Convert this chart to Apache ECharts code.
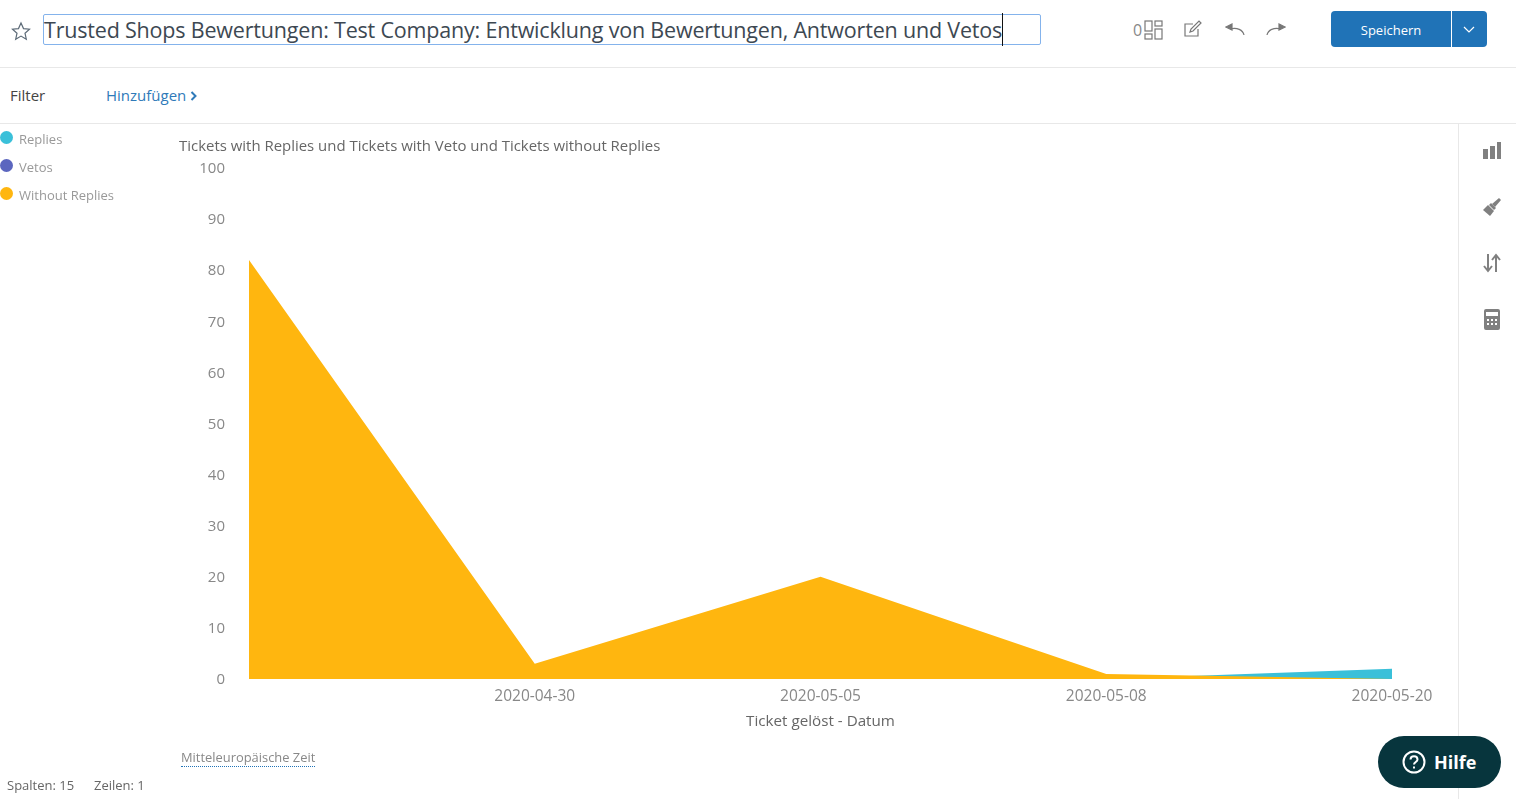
<!DOCTYPE html>
<html>
<head>
<meta charset="utf-8">
<title>Trusted Shops Bewertungen</title>
<script src="https://cdn.jsdelivr.net/npm/echarts@6/dist/echarts.min.js"></script>
<style>
html, body { margin: 0; padding: 0; background: #fff; overflow: hidden; }
body { width: 1516px; height: 799px; position: relative; font-family: "Open Sans", sans-serif; color: #555; }
.abs { position: absolute; white-space: nowrap; }
.hline { position: absolute; left: 0; width: 1516px; height: 1px; background: #e8e8e8; }
#main { position: absolute; left: 0; top: 124px; width: 1458px; height: 675px; }
svg { position: absolute; fill: none; stroke: #777; stroke-width: 1.2; }
</style>
</head>
<body>
<svg style="left:10px;top:20px" width="22" height="22" viewBox="0 0 22 22"><path stroke="#5d6b78" d="M11 3l2.5 5.6 6 .6-4.5 4 1.3 6-5.300-3.100-5.300 3.100 1.300-6-4.500-4 6-.6z"/></svg>
<div class="abs" style="left:43px;top:14px;width:996px;height:29px;border:1px solid #84b3ec;border-radius:2px;"></div>
<div class="abs" id="pagetitle" style="left:44px;top:13px;font-size:21.5px;letter-spacing:-0.19px;line-height:33px;color:#3d4852;border-right:1px solid #111;">Trusted Shops Bewertungen: Test Company: Entwicklung von Bewertungen, Antworten und Vetos</div>

<div class="abs" style="left:1133px;top:19px;font-size:16px;color:#888;">0</div>
<svg style="left:1144px;top:20px" width="20" height="20" viewBox="0 0 20 20"><rect x="1" y="1" width="7" height="10" /><rect x="11" y="1" width="7" height="5"/><rect x="1" y="14" width="7" height="5"/><rect x="11" y="9" width="7" height="10"/></svg>
<svg style="left:1183px;top:19px" width="20" height="20" viewBox="0 0 20 20"><path d="M15 10v7H2V5h8"/><path d="M7 13l1-3 8-8 2 2-8 8z"/></svg>
<svg style="left:1225px;top:21px" width="20" height="16" viewBox="0 0 20 16"><path d="M19 14c-1-5-7-8-14-6"/><path fill="#777" d="M1 6l6-3v6z"/></svg>
<svg style="left:1266px;top:21px" width="20" height="16" viewBox="0 0 20 16"><path d="M1 14c1-5 7-8 14-6"/><path fill="#777" d="M19 6l-6-3v6z"/></svg>

<div class="abs" style="left:1331px;top:11px;width:120px;height:36px;background:#2073b7;border-radius:4px 0 0 4px;color:#fff;font-size:13px;line-height:38px;text-align:center;">Speichern</div>
<div class="abs" style="left:1452px;top:11px;width:35px;height:36px;background:#2073b7;border-radius:0 4px 4px 0;"></div>
<svg style="left:1463px;top:26px;stroke:#fff;" width="12" height="8" viewBox="0 0 12 8"><path d="M1 1l5 5 5-5"/></svg>

<div class="hline" style="top:67px"></div>
<div class="abs" style="left:10px;top:85px;font-size:15px;line-height:21px;color:#444;">Filter</div>
<div class="abs" style="left:106px;top:85px;font-size:15px;line-height:21px;color:#2f7ab9;">Hinzufügen</div>
<svg style="left:190px;top:91px;stroke:#2f7ab9;stroke-width:2" width="8" height="10" viewBox="0 0 8 10"><path d="M1.500 1l4 4-4 4"/></svg>
<div class="hline" style="top:123px"></div>

<div id="main"></div>

<div class="abs" style="left:1458px;top:124px;width:1px;height:675px;background:#e8e8e8;"></div>
<svg style="left:1483px;top:142px;stroke:none;fill:#808080" width="18" height="18" viewBox="0 0 18 18"><rect x="0" y="7" width="5" height="10"/><rect x="7" y="4" width="5" height="13"/><rect x="14" y="0" width="4" height="17"/></svg>
<svg style="left:1482px;top:197px;stroke:none;fill:#808080" width="20" height="20" viewBox="0 0 20 20"><path d="M17 1l2 2-6 7-3-3z"/><path d="M9 6l5 5-2 2-5-5z"/><path d="M6 8l6 6-4 5-7-6z"/></svg>
<svg style="left:1483px;top:253px;stroke:#808080;stroke-width:2" width="18" height="20" viewBox="0 0 18 20"><path d="M5 1v16M1 13l4 5 4-5"/><path d="M13 19V3M9 7l4-5 4 5"/></svg>
<svg style="left:1484px;top:309px;stroke:none;fill:#808080" width="16" height="21" viewBox="0 0 16 21"><path fill-rule="evenodd" d="M2 0h12a2 2 0 0 1 2 2v17a2 2 0 0 1-2 2H2a2 2 0 0 1-2-2V2a2 2 0 0 1 2-2zM2 3v4h12V3zM3 10v2h2v-2zM7 10v2h2v-2zM11 10v2h2v-2zM3 14v2h2v-2zM7 14v2h2v-2zM11 14v2h2v-2z"/></svg>

<div class="abs" style="left:181px;top:748px;font-size:12.9px;line-height:18px;color:#888;border-bottom:1px dotted #2073b7;">Mitteleuropäische Zeit</div>
<div class="abs" style="left:7px;top:776px;font-size:13px;line-height:18px;color:#666;">Spalten: 15</div>
<div class="abs" style="left:94px;top:776px;font-size:13px;line-height:18px;color:#666;">Zeilen: 1</div>

<div class="abs" style="left:1378px;top:736px;width:123px;height:52px;border-radius:26px;background:#07353d;"></div>
<svg style="left:1402px;top:750px;stroke:#fff;stroke-width:2" width="24" height="24" viewBox="0 0 24 24"><circle cx="12" cy="12" r="10.500"/><path d="M8.500 9.500c0-4.500 7-4.500 7 0 0 2.500-3.500 2.500-3.500 5"/><path d="M12 16.500v2"/></svg>
<div class="abs" style="left:1434px;top:750px;font-size:18px;line-height:25px;font-weight:700;color:#fff;">Hilfe</div>

<script>
var categories = ['', '2020-04-30', '2020-05-05', '2020-05-08', '2020-05-20'];
var replies = [5, 0, 0, 0, 2];
var vetos = [0, 0, 0, 0, 0];
var withoutReplies = [82, 3, 20, 1, 0];
var yTicks = { min: 0, max: 100, interval: 10 };
var seriesColor = ['#3ac0d9', '#5b66bf', '#ffb60f'];

function areaSeries(name, data, color) {
	return {
		name: name,
		type: 'line',
		showSymbol: false,
		silent: true,
		lineStyle: { width: 0 },
		itemStyle: { color: color },
		areaStyle: { color: color, opacity: 1 },
		data: data
	};
}

var myChart = echarts.init(document.getElementById('main'));
myChart.setOption({
	animation: false,
	textStyle: { fontFamily: '"Open Sans", sans-serif' },
	title: {
		text: 'Tickets with Replies und Tickets with Veto und Tickets without Replies',
		left: 179,
		top: 15,
		padding: 0,
		textStyle: { fontSize: 14.95, fontWeight: 'normal', color: '#666' }
	},
	legend: {
		orient: 'vertical',
		left: 0,
		top: 7,
		padding: 0,
		itemGap: 12,
		itemWidth: 13,
		itemHeight: 13,
		icon: 'circle',
		formatter: function (name) { return '{t|' + name + '}'; },
		textStyle: {
			padding: [0, 0, 0, 1],
			rich: { t: { fontSize: 13, color: '#999', padding: [6, 0, 0, 0] } }
		},
		data: ['Replies', 'Vetos', 'Without Replies']
	},
	grid: { left: 249, right: 66, top: 44, bottom: 120 },
	xAxis: {
		type: 'category',
		boundaryGap: false,
		data: categories,
		name: 'Ticket gelöst - Datum',
		nameLocation: 'middle',
		nameGap: 35,
		nameTextStyle: { fontSize: 15.2, color: '#666' },
		axisLine: { show: false },
		axisTick: { show: false },
		axisLabel: { interval: 0, fontSize: 15.5, color: '#888', margin: 10 }
	},
	yAxis: {
		type: 'value',
		min: yTicks.min,
		max: yTicks.max,
		interval: yTicks.interval,
		splitLine: { show: false },
		axisLine: { show: false },
		axisTick: { show: false },
		axisLabel: {
			margin: 24,
			formatter: '{v|{value}}',
			rich: { v: { fontSize: 15, color: '#888', padding: [2, 0, 0, 0] } }
		}
	},
	series: [
		areaSeries('Replies', replies, seriesColor[0]),
		areaSeries('Vetos', vetos, seriesColor[1]),
		areaSeries('Without Replies', withoutReplies, seriesColor[2])
	]
});
</script>
</body>
</html>
